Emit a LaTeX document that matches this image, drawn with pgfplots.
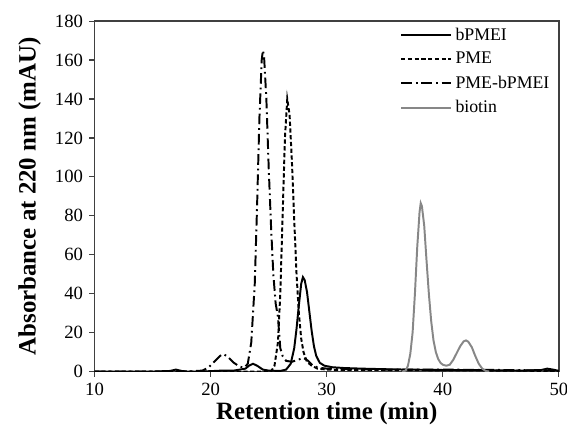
\documentclass[border={7pt 1pt -4pt 5pt}]{standalone}
\usepackage{fontspec}
\setmainfont{Liberation Serif}
\usepackage{pgfplots}
\pgfplotsset{compat=1.18}
\definecolor{biotingray}{RGB}{135,135,135}

\begin{document}
\begin{tikzpicture}
\begin{axis}[
  scale only axis,
  width=261pt, height=197pt,
  xmin=10, xmax=50, ymin=0, ymax=180,
  xtick={10,20,30,40,50}, ytick={0,20,...,180},
  tick align=outside, tick pos=left,
  major tick length=3pt,
  axis line style={line width=0.8pt, black!75},
  every tick/.style={black!75, line width=0.7pt},
  tick label style={font=\fontsize{10.5}{12}\selectfont},
  /pgf/number format/assume math mode=true,
  xlabel={\textbf{Retention time (min)}},
  ylabel={\textbf{Absorbance at 220 nm (mAU)}},
  label style={font=\fontsize{14}{16}\selectfont},
  xlabel style={yshift=3pt},
  ylabel style={yshift=1pt},
  legend style={draw=none, fill=none, at={(0.99,0.995)}, anchor=north east,
    font=\fontsize{10}{12}\selectfont, row sep=1.3pt, inner sep=0.5pt},
  legend cell align=left,
  legend image code/.code={\draw[#1] (0cm,0cm) -- (28pt,0cm);},
]
% bPMEI
\addplot[black, line width=1.1pt] coordinates {
(10,0) (15,0) (16.5,0.3) (17,1) (17.5,0.3) (18,0) (19,0) (20,0.2) (21,0.5) (22,0.5)
(23,1.5) (23.3,3) (23.65,4) (24,3) (24.5,1) (25,0.5) (26,0.3) (26.5,1) (26.9,4)
(27.2,12) (27.4,22) (27.6,34) (27.8,45) (27.95,48.5) (28.1,47) (28.3,41) (28.5,31)
(28.7,21) (28.9,13) (29.1,8) (29.4,4.5) (29.8,3) (30.5,2.2) (31.5,1.8) (33,1.5)
(35,1.2) (37,1) (40,0.8) (43,0.8) (45,0.6) (47,0.5) (48.5,0.8) (49,1.5) (49.5,1) (50,0.3)
};
\addlegendentry{bPMEI}
% PME
\addplot[black, line width=1.1pt, dash pattern=on 2.4pt off 1.4pt] coordinates {
(10,0) (25.2,0) (25.5,3) (25.8,15) (26.0,40) (26.2,80) (26.4,120) (26.6,140)
(26.8,132) (27.0,108) (27.2,78) (27.4,50) (27.6,30) (27.8,17) (28.0,10) (28.3,5)
(28.7,3) (29.2,1.5) (30,1) (31,0.8) (35,0.8) (40,0.6) (45,0.5) (50,0.3)
};
\addlegendentry{PME}
% PME-bPMEI
\addplot[black, line width=1.1pt, dash pattern=on 6pt off 2.2pt on 1pt off 2.2pt] coordinates {
(10,0) (18,0) (19.3,0.5) (19.8,2) (20.3,5) (20.8,8) (21.1,9) (21.5,7.5) (22.0,4.5)
(22.5,2.5) (22.9,2) (23.2,4) (23.5,15) (23.8,45) (24.0,85) (24.2,130) (24.4,160)
(24.5,165) (24.6,162) (24.8,140) (25.0,105) (25.2,75) (25.4,50) (25.6,35) (25.8,28)
(25.9,20) (26.0,12) (26.2,8) (26.5,5.5) (27.0,5) (27.5,6) (28.0,7) (28.4,5.5)
(28.8,3) (29.3,2) (30,1.5) (32,1.2) (35,1) (40,1) (45,0.8) (50,0.5)
};
\addlegendentry{PME-bPMEI}
% biotin
\addplot[biotingray, line width=1.1pt] coordinates {
(36.5,0) (36.8,0.5) (37.0,3) (37.2,9) (37.4,20) (37.6,40) (37.8,64) (38.0,82)
(38.1,86.5) (38.2,85) (38.4,75) (38.6,57) (38.8,40) (39.0,26) (39.2,16) (39.4,10)
(39.6,6.5) (39.8,4.5) (40.0,3.5) (40.3,3) (40.6,3.5) (40.9,6) (41.2,9.5) (41.5,13)
(41.8,15.5) (42.0,16) (42.2,15.3) (42.5,12.5) (42.8,8) (43.1,4) (43.4,1.5) (43.7,0.3) (44.0,0)
};
\addlegendentry{biotin}
\end{axis}
\end{tikzpicture}
\end{document}
